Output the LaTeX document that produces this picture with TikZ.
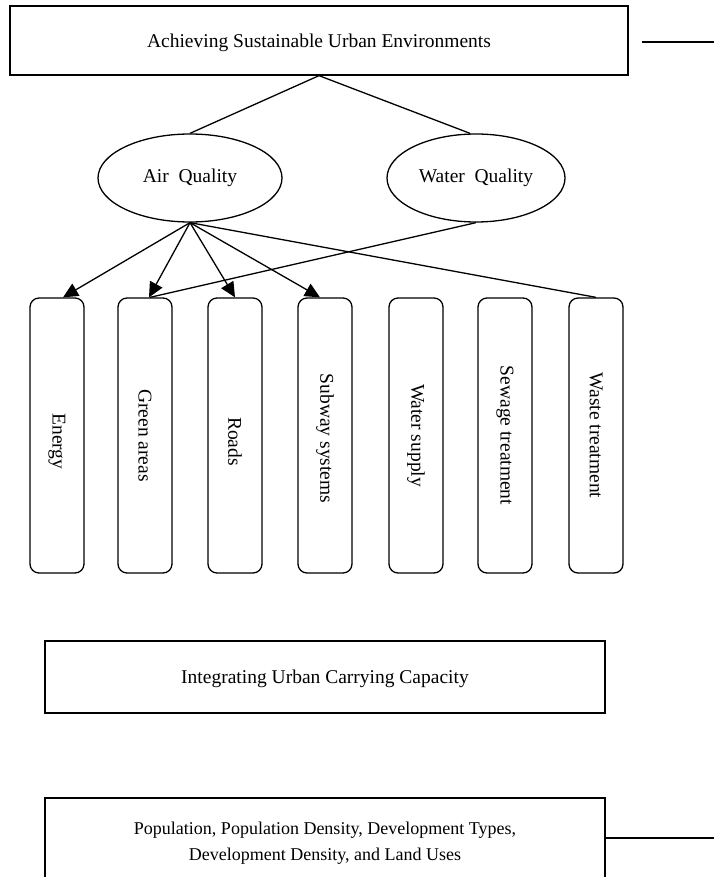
\documentclass[tikz,border=0pt]{standalone}
\usepackage{fontspec}
\setmainfont{Liberation Serif}
\usetikzlibrary{arrows.meta,shapes.geometric,calc}
\begin{document}
\begin{tikzpicture}[x=1pt,y=-1pt,
  every node/.style={font=\fontsize{19.5}{26}\selectfont},
  line/.style={line width=1.3pt},
  plainbox/.style={draw,line width=1.3pt,rectangle,inner sep=0pt},
  oval/.style={draw,line width=1.3pt,ellipse,inner sep=0pt,minimum width=184pt,minimum height=88pt},
  pillar/.style={draw,line width=1.3pt,rectangle,rounded corners=9pt,inner sep=0pt,minimum width=54pt,minimum height=275pt},
  vtext/.style={rotate=-90},
  arr/.style={line width=1.3pt,-{Triangle[length=15pt,width=14pt]}}]
\useasboundingbox (0,0) rectangle (714,877);
\begin{scope}
\clip (0,0) rectangle (714,877);
% top box
\node[plainbox,minimum width=618pt,minimum height=69pt] (top) at (319,40.5) {};
\node (toptext) at (319,43) {Achieving Sustainable Urban Environments};
\coordinate (tr1) at (642,42);
\coordinate (tr2) at (714,42);
\draw[line] (tr1) -- (tr2);
% ellipses
\node[oval] (air) at (190,178) {Air\ \ Quality};
\node[oval,minimum width=178pt] (water) at (476,178) {Water\ \ Quality};
\draw[line] (top.south) -- (air.north);
\draw[line] (top.south) -- ([xshift=-6pt]water.north);
% pillars
\node[pillar] (energy) at (57,435.5) {};
\node[vtext] (tenergy) at ([yshift=-6pt]energy.center) {Energy};
\node[pillar] (green) at (145,435.5) {};
\node[vtext] (tgreen) at (green.center) {Green areas};
\node[pillar] (roads) at (235,435.5) {};
\node[vtext] (troads) at ([yshift=-6pt]roads.center) {Roads};
\node[pillar] (subway) at (325,435.5) {};
\node[vtext] (tsubway) at ([yshift=-3pt]subway.center) {Subway systems};
\node[pillar] (wsupply) at (416,435.5) {};
\node[vtext] (twsupply) at (wsupply.center) {Water supply};
\node[pillar] (sewage) at (505,435.5) {};
\node[vtext] (tsewage) at (sewage.center) {Sewage treatment};
\node[pillar] (waste) at (596,435.5) {};
\node[vtext] (twaste) at (waste.center) {Waste treatment};
% connectors
\draw[arr] (air.south) -- ([xshift=6pt]energy.north);
\draw[arr] (air.south) -- ([xshift=4pt]green.north);
\draw[arr] (air.south) -- (roads.north);
\draw[arr] (air.south) -- ([xshift=-5pt]subway.north);
\draw[line] (air.south) -- (waste.north);
\draw[line] (water.south) -- ([xshift=5pt]green.north);
% bottom boxes
\node[plainbox,minimum width=560pt,minimum height=72pt] (icc) at (325,677) {};
\node (icctext) at (325,679) {Integrating Urban Carrying Capacity};
\node[plainbox,minimum width=560pt,minimum height=100pt] (pop) at (325,848) {};
\node[align=center,font=\fontsize{18}{26}\selectfont] (poptext) at (325,843) {Population, Population Density, Development Types,\\Development Density, and Land Uses};
\coordinate (br2) at (714,838);
\draw[line] (pop.east |- br2) -- (br2);
\end{scope}
\end{tikzpicture}
\end{document}
